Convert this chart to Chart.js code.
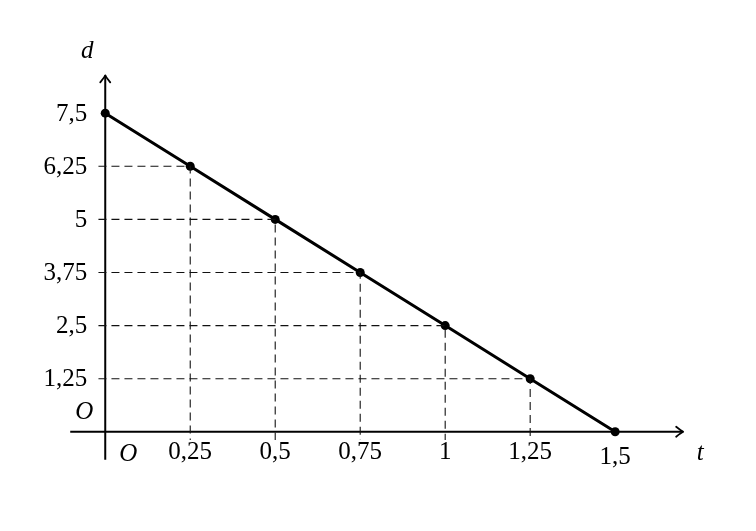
<!DOCTYPE html>
<html><head><meta charset="utf-8">
<script src="https://cdn.jsdelivr.net/npm/chart.js@4"></script>
<style>html,body{margin:0;padding:0;background:#fff}#wrap{width:756px;height:531px}</style>
</head><body><div id="wrap"><canvas id="c" width="756" height="531"></canvas></div>
<script>
const tValues = [0, 0.25, 0.5, 0.75, 1, 1.25, 1.5];
const dValues = [7.5, 6.25, 5, 3.75, 2.5, 1.25, 0];
const xTickValues = [0.25, 0.5, 0.75, 1, 1.25, 1.5];
const xTickLabels = ['0,25', '0,5', '0,75', '1', '1,25', '1,5'];
const yTickValues = [1.25, 2.5, 3.75, 5, 6.25, 7.5];
const yTickLabels = ['1,25', '2,5', '3,75', '5', '6,25', '7,5'];
const xAxisLabel = 't';
const yAxisLabel = 'd';
const originLabel = 'O';

const X_MIN = -0.29635, X_MAX = 1.90105, Y_MIN = -2.229, Y_MAX = 10.058;
const AX_X_FROM = -0.103, AX_X_TO = 1.70, AX_Y_FROM = -0.66, AX_Y_TO = 8.39;

const points = tValues.map((t, i) => ({x: t, y: dValues[i]}));

const guideSets = [];
points.forEach(p => {
  if (p.x > 0 && p.y > 0) {
    guideSets.push({
      data: [{x: -0.02, y: p.y}, {x: p.x, y: p.y}, {x: p.x, y: -0.19}],
      showLine: true, borderColor: '#111', borderWidth: 1.1, borderDash: [8, 5],
      pointRadius: 0, fill: false, tension: 0
    });
  }
});

const serif = '"Liberation Serif", "DejaVu Serif", serif';

const axesPlugin = {
  id: 'axesPlugin',
  beforeDatasetsDraw(chart) {
    const ctx = chart.ctx, xs = chart.scales.x, ys = chart.scales.y;
    const x0 = xs.getPixelForValue(0), y0 = ys.getPixelForValue(0);
    ctx.save();
    ctx.strokeStyle = '#000'; ctx.lineWidth = 2; ctx.lineCap = 'butt';
    const xa = xs.getPixelForValue(AX_X_FROM), xb = xs.getPixelForValue(AX_X_TO);
    const ya = ys.getPixelForValue(AX_Y_FROM), yb = ys.getPixelForValue(AX_Y_TO);
    ctx.beginPath(); ctx.moveTo(xa, y0); ctx.lineTo(xb, y0); ctx.stroke();
    ctx.beginPath(); ctx.moveTo(x0, ya); ctx.lineTo(x0, yb); ctx.stroke();
    ctx.lineWidth = 1.8; ctx.lineJoin = 'round'; ctx.lineCap = 'round';
    ctx.beginPath(); ctx.moveTo(xb - 7, y0 - 5); ctx.quadraticCurveTo(xb - 2, y0 - 1, xb, y0);
    ctx.quadraticCurveTo(xb - 2, y0 + 1, xb - 7, y0 + 5); ctx.stroke();
    ctx.beginPath(); ctx.moveTo(x0 - 5, yb + 7); ctx.quadraticCurveTo(x0 - 1, yb + 2, x0, yb);
    ctx.quadraticCurveTo(x0 + 1, yb + 2, x0 + 5, yb + 7); ctx.stroke();

    ctx.fillStyle = '#000';
    ctx.font = '25px ' + serif;
    ctx.textAlign = 'right'; ctx.textBaseline = 'middle';
    yTickValues.forEach((v, i) => {
      ctx.fillText(yTickLabels[i], x0 - 18, ys.getPixelForValue(v) + 1);
    });
    ctx.textAlign = 'center';
    xTickValues.forEach((v, i) => {
      const onAxisPoint = dValues[tValues.indexOf(v)] === 0;
      ctx.fillText(xTickLabels[i], xs.getPixelForValue(v), y0 + (onAxisPoint ? 26 : 21));
    });
    ctx.font = 'italic 25px ' + serif;
    ctx.textBaseline = 'middle';
    ctx.fillText(yAxisLabel, x0 - 18, yb - 24);
    ctx.fillText(xAxisLabel, xb + 17, y0 + 22);
    ctx.fillText(originLabel, x0 + 23, y0 + 23);
    ctx.fillText(originLabel, x0 - 21, y0 - 19);
    ctx.restore();
  }
};

new Chart(document.getElementById('c'), {
  type: 'scatter',
  data: {
    datasets: [
      ...guideSets,
      {
        data: points, showLine: true, borderColor: '#000', borderWidth: 3,
        pointRadius: 4.5, pointBackgroundColor: '#000', pointBorderColor: '#000',
        pointBorderWidth: 0, tension: 0, fill: false
      }
    ]
  },
  options: {
    responsive: false, animation: false, devicePixelRatio: 1,
    layout: {padding: 0},
    plugins: {legend: {display: false}, tooltip: {enabled: false}, title: {display: false}},
    scales: {
      x: {type: 'linear', min: X_MIN, max: X_MAX, display: false},
      y: {type: 'linear', min: Y_MIN, max: Y_MAX, display: false}
    }
  },
  plugins: [axesPlugin]
});
</script>
</body></html>
